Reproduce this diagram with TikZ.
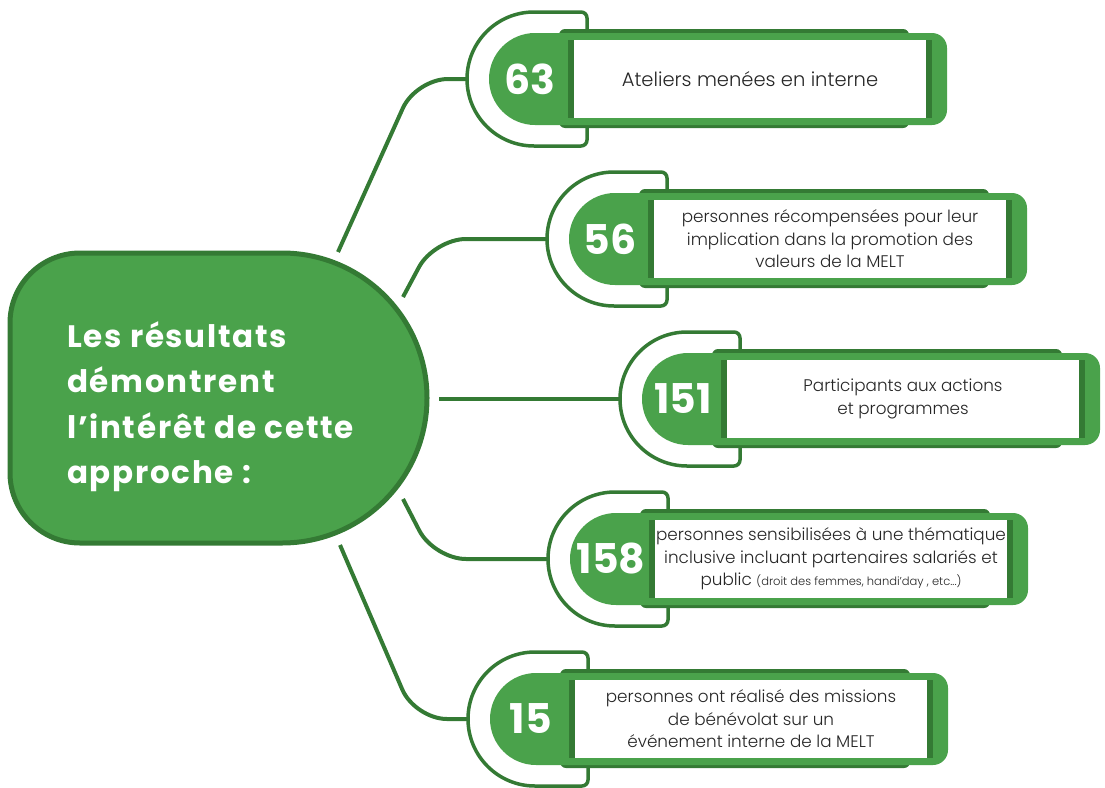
\documentclass[tikz,border=0pt]{standalone}
\usepackage{fontspec}
\setmainfont{Poppins}
\newfontfamily\lightfont{Poppins Light}
\newfontfamily\headfont{Poppins Bold}[LetterSpace=5.5]
\definecolor{lg}{RGB}{74,162,75}
\definecolor{dg}{RGB}{52,122,52}
\definecolor{txt}{RGB}{38,38,38}
\tikzset{
  outl/.style={draw=dg, line width=3.5pt},
  conn/.style={draw=dg, line width=4pt, rounded corners=32pt},
  numtxt/.style={text=white, font=\bfseries\fontsize{41}{41}\selectfont, inner sep=0pt},
  bodytxt/.style={text=txt, align=center, font=\lightfont\fontsize{16.8}{22.5}\selectfont, inner sep=0pt},
  headtxt/.style={text=white, anchor=base west, font=\headfont\fontsize{31}{31}\selectfont, inner sep=0pt}
}
\newcommand\statitem[5]{%
  \begin{scope}[shift={(#2,#3)}]
    \draw[outl] (0,30) -- (0,6) arc[start angle=0,end angle=90,radius=6pt] -- (-53,0)
      arc[start angle=90,end angle=270,radius=67pt] -- (-6,134)
      arc[start angle=-90,end angle=0,radius=6pt] -- (0,104);
    \fill[dg, rounded corners=6pt] (-28,17) rectangle (322,116);
    \fill[lg] (-52,21) arc[start angle=90,end angle=270,radius=46pt] -- (345,113)
      arc[start angle=-90,end angle=0,radius=15pt] -- (360,36)
      arc[start angle=0,end angle=90,radius=15pt] -- cycle;
    \fill[white] (-19,28) rectangle (345,106);
    \fill[dg] (-19,28) rectangle (-13,106);
    \fill[dg] (339,28) rectangle (345,106);
    \node[numtxt] (#1n) at (-57,67) {#4};
    \node[bodytxt] (#1t) at (163,67) {#5};
    \coordinate (#1in) at (-120,67);
  \end{scope}}
\begin{document}
\begin{tikzpicture}[x=1pt,y=-1pt]
\useasboundingbox (0,0) rectangle (1105,787);
% central shape
\draw[draw=dg, fill=lg, line width=5pt] (282,253) -- (80,253)
  arc[start angle=90,end angle=180,radius=70pt] -- (10,473)
  arc[start angle=180,end angle=270,radius=70pt] -- (282,543)
  arc[start angle=-90,end angle=90,radius=145pt] -- cycle;
\node[headtxt] (h1) at (67,347) {Les résultats};
\node[headtxt] (h2) at (67,392) {démontrent};
\node[headtxt] (h3) at (67,438) {l’intérêt de cette};
\node[headtxt] (h4) at (67,483) {approche :};
% items
\statitem{a}{587}{12}{63}{{\fontsize{19.5}{22.5}\selectfont Ateliers menées en interne}}
\statitem{b}{667}{172}{56}{personnes récompensées pour leur\\implication dans la promotion des\\valeurs de la MELT}
\statitem{c}{740}{332}{151}{Participants aux actions\\et programmes}
\statitem{d}{668}{492}{158}{personnes sensibilisées à une thématique\\inclusive incluant partenaires salariés et\\public {\fontsize{11.5}{11.5}\selectfont(droit des femmes, handi’day , etc...)}}
\statitem{e}{588}{652}{15}{personnes ont réalisé des missions\\de bénévolat sur un\\événement interne de la MELT}
% connectors
\coordinate (s1) at (338,252);
\coordinate (k1) at (416,79);
\coordinate (s2) at (403,297);
\coordinate (k2) at (434,239);
\coordinate (s3) at (439,399);
\coordinate (s4) at (403,499);
\coordinate (k4) at (434,559);
\coordinate (s5) at (340,545);
\coordinate (k5) at (415,719);
\draw[conn] (s1) -- (k1) -- (ain);
\draw[conn] (s2) -- (k2) -- (bin);
\draw[conn] (s3) -- (cin);
\draw[conn] (s4) -- (k4) -- (din);
\draw[conn] (s5) -- (k5) -- (ein);
\end{tikzpicture}
\end{document}
